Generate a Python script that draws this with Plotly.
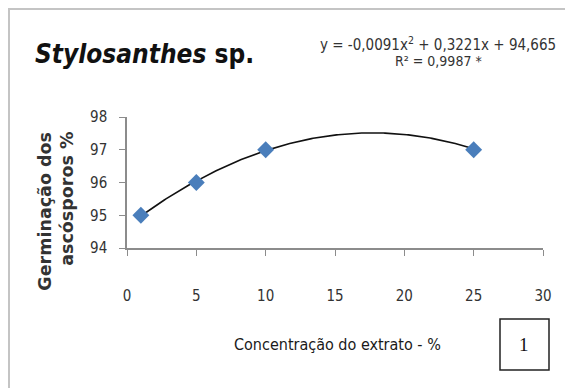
import numpy as np
import plotly.graph_objects as go

# Extract concentration (%) and spore germination (%)
concentracao = [1, 5, 10, 25]
germinacao = [95, 96, 97, 97]

# Quadratic trend coefficients (y = a*x^2 + b*x + c)
coef_a, coef_b, coef_c = -0.0091, 0.3221, 94.665
r2_label = "R² = 0,9987 *"
eq_label = "y = -0,0091x<sup>2</sup> + 0,3221x + 94,665"

x_ticks = [0, 5, 10, 15, 20, 25, 30]
y_ticks = [94, 95, 96, 97, 98]

FONT = "DejaVu Sans"
NARROW = "DejaVu Sans Condensed, Liberation Sans Narrow, DejaVu Sans, sans-serif"

xs = np.linspace(min(concentracao), max(concentracao), 200)
ys = coef_a * xs**2 + coef_b * xs + coef_c

fig = go.Figure()
fig.add_trace(go.Scatter(x=xs, y=ys, mode="lines",
                         line=dict(color="#111111", width=1.6),
                         hoverinfo="skip", showlegend=False))
fig.add_trace(go.Scatter(x=concentracao, y=germinacao, mode="markers",
                         marker=dict(symbol="diamond", size=13, color="#4a7ebb",
                                     line=dict(width=0)),
                         showlegend=False))

fig.update_layout(
    width=565, height=388,
    margin=dict(l=127, r=22, t=117, b=140),
    paper_bgcolor="white", plot_bgcolor="white",
    font=dict(family=FONT, color="#333333"),
    xaxis=dict(range=[0, 30], tickvals=x_ticks, showgrid=False, zeroline=False,
               showline=True, linecolor="#8c8c8c", linewidth=1.5,
               ticks="outside", ticklen=6, tickcolor="#8c8c8c",
               tickfont=dict(size=15, color="#333333", family=NARROW),
               ticklabelstandoff=27),
    yaxis=dict(range=[94, 98], tickvals=y_ticks, showgrid=False, zeroline=False,
               showline=True, linecolor="#8c8c8c", linewidth=1.5,
               ticks="outside", ticklen=6, tickcolor="#8c8c8c",
               tickfont=dict(size=15, color="#333333", family=NARROW),
               ticklabelstandoff=9),
    shapes=[
        # outer chart frame
        dict(type="rect", xref="paper", yref="paper", xsizemode="pixel",
             ysizemode="pixel", xanchor=0, yanchor=0,
             x0=-118, x1=445, y0=-150, y1=239,
             line=dict(color="#c4c4c4", width=2)),
        # panel number box
        dict(type="rect", xref="paper", yref="paper", xsizemode="pixel",
             ysizemode="pixel", xanchor=0, yanchor=0,
             x0=373, x1=422, y0=-122, y1=-71,
             line=dict(color="#222222", width=1.5), fillcolor="white"),
    ],
    annotations=[
        dict(text="<b><i>Stylosanthes</i> sp.</b>", xref="paper", yref="paper",
             x=-0.226, y=1.48, xanchor="left", yanchor="middle", showarrow=False,
             font=dict(size=26, color="#111111", family=NARROW)),
        dict(text=eq_label, xref="paper", yref="paper",
             x=0.748, y=1.557, xanchor="center", yanchor="middle", showarrow=False,
             font=dict(size=15, color="#333333", family=NARROW)),
        dict(text=r2_label, xref="paper", yref="paper",
             x=0.748, y=1.427, xanchor="center", yanchor="middle", showarrow=False,
             font=dict(size=14, color="#333333", family=NARROW)),
        dict(text="<b>Germinação dos</b>", xref="paper", yref="paper",
             x=-0.197, y=0.9, xanchor="center", yanchor="top", showarrow=False,
             textangle=-90, font=dict(size=17.5, family=FONT, color="#333333")),
        dict(text="<b>ascósporos %</b>", xref="paper", yref="paper",
             x=-0.145, y=0.9, xanchor="center", yanchor="top", showarrow=False,
             textangle=-90, font=dict(size=17.5, family=FONT, color="#333333")),
        dict(text="Concentração do extrato - %", xref="paper", yref="paper",
             x=0.505, y=-0.74, xanchor="center", yanchor="middle", showarrow=False,
             font=dict(size=16, color="#1a1a1a", family=NARROW)),
        dict(text="1", xref="paper", yref="paper",
             x=0.955, y=-0.74, xanchor="center", yanchor="middle", showarrow=False,
             font=dict(size=19, family="Liberation Serif, serif", color="#111111")),
    ],
)

fig.write_html("out.html")
